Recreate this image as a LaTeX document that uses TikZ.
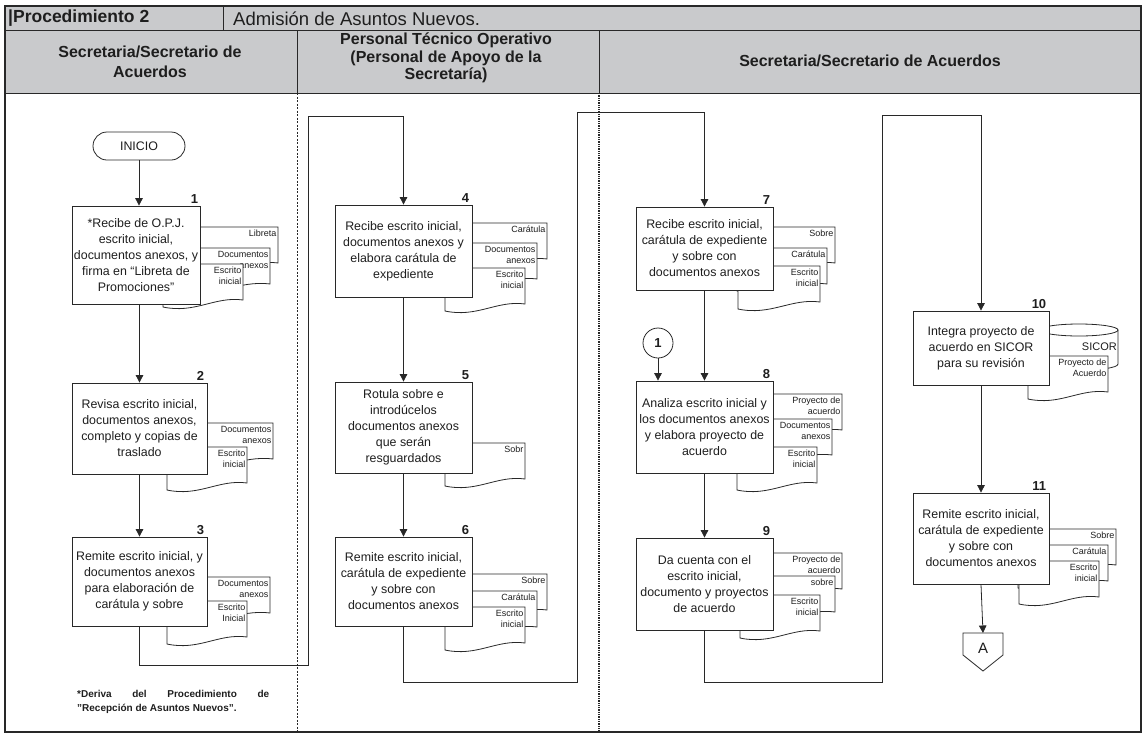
\documentclass[tikz,border=0pt]{standalone}
\usepackage{fontspec}
\setmainfont{Liberation Sans}
\usetikzlibrary{arrows.meta,shapes.geometric}
\definecolor{hdr}{RGB}{201,202,204}
\definecolor{ln}{RGB}{40,40,40}
\definecolor{tx}{RGB}{30,30,30}
\newcommand{\mybody}{\fontsize{12.4}{16}\selectfont}
\newcommand{\mydoc}{\fontsize{9}{11}\selectfont}
\newcommand{\mynum}{\fontsize{13}{15}\selectfont\bfseries}
\newcommand{\myhdr}{\fontsize{16}{17.5}\selectfont\bfseries}
\newcommand{\mytitb}{\fontsize{17.5}{19}\selectfont\bfseries}
\newcommand{\mytit}{\fontsize{18.5}{19}\selectfont}
\newcommand{\myfoot}{\fontsize{10}{14}\selectfont\bfseries}
\tikzset{
  proc/.style={draw=ln, fill=white, line width=0.8pt, align=center, font=\mybody, text=tx, inner sep=0pt},
  docline/.style={draw=ln, fill=white, line width=0.8pt},
  doclbl/.style={font=\mydoc, align=right, inner sep=0pt, text=tx},
  num/.style={font=\mynum, text=tx, inner sep=0pt},
  arr/.style={draw=ln, line width=0.8pt, -{Triangle[length=7.5pt,width=7.5pt]}},
  hdrtxt/.style={font=\myhdr, align=center, text=tx, inner sep=0pt},
}
% #1 right x, #2 top y, #3 width, #4 name, #5 label
\newcommand{\docsh}[5]{%
  \filldraw[docline] (#1-#3,#2) -- (#1,#2) -- (#1,#2+36) .. controls (#1-0.35*#3,#2+32) and (#1-0.6*#3,#2+50) .. (#1-#3,#2+43) -- cycle;
  \node[doclbl, anchor=north east] (#4) at (#1-1.5,#2+3) {#5};
}
\begin{document}
\begin{tikzpicture}[x=1pt,y=-1pt]
\useasboundingbox (0,0) rectangle (1146,737);
% header
\fill[hdr] (5,6) rectangle (1141,93);
\draw[ln, line width=1pt] (5,30) -- (1141,30);
\draw[ln, line width=1pt] (5,93) -- (1141,93);
\draw[ln, line width=0.8pt] (223,6) -- (223,30);
\draw[ln, line width=0.8pt] (297,30) -- (297,93);
\draw[ln, line width=0.8pt] (599,30) -- (599,93);
% lane dividers
\draw[ln, line width=0.7pt, dash pattern=on 2pt off 1.5pt] (297,93) -- (297,732);
\draw[ln, line width=1.8pt, dash pattern=on 1.3pt off 1pt] (599,93) -- (599,732);
% frame
\draw[ln, line width=1.2pt] (5,6) rectangle (1141,732);
% titles
\node[anchor=west, font=\mytitb, text=tx, inner sep=0pt] (t1) at (8,18.5) {|Procedimiento 2};
\node[anchor=west, font=\mytit, text=tx, inner sep=0pt] (t2) at (233,18.5) {Admisión de Asuntos Nuevos.};
\node[hdrtxt, font=\fontsize{16}{20}\selectfont\bfseries] (h1) at (150,62) {Secretaria/Secretario de\\Acuerdos};
\node[hdrtxt] (h2) at (446,58) {Personal Técnico Operativo\\(Personal de Apoyo de la\\Secretaría)};
\node[hdrtxt] (h3) at (870,61) {Secretaria/Secretario de Acuerdos};

% start
\node[draw=ln, fill=white, line width=0.8pt, rounded corners=14pt, minimum width=92pt, minimum height=28pt, font=\mybody, text=tx, inner sep=0pt] (ini) at (139,146) {INICIO};

% ---- box 1
\docsh{278}{227}{90}{d1a}{Libreta}
\docsh{270}{248}{90}{d1b}{Documentos\\anexos}
\docsh{243}{264}{80}{d1c}{Escrito\\inicial}
\node[proc, minimum width=128pt, minimum height=98pt] (b1) at (136,255) {*Recibe de O.P.J.\\escrito inicial,\\documentos anexos, y\\firma en “Libreta de\\Promociones”};
\node[num, anchor=south east] (n1) at ([xshift=-2pt,yshift=2pt]b1.north east) {1};
% ---- box 2
\docsh{273}{423}{90}{d2a}{Documentos\\anexos}
\docsh{247}{447}{80}{d2b}{Escrito\\inicial}
\node[proc, minimum width=135pt, minimum height=91pt] (b2) at (139.5,428.5) {Revisa escrito inicial,\\documentos anexos,\\completo y copias de\\traslado};
\node[num, anchor=south east] (n2) at ([xshift=-3pt,yshift=2pt]b2.north east) {2};
% ---- box 3
\docsh{270}{577}{90}{d3a}{Documentos\\anexos}
\docsh{247}{601}{80}{d3b}{Escrito\\Inicial}
\node[proc, minimum width=135pt, minimum height=89pt] (b3) at (139.5,581.5) {Remite escrito inicial, y\\documentos anexos\\para elaboración de\\carátula y sobre};
\node[num, anchor=south east] (n3) at ([xshift=-3pt,yshift=2pt]b3.north east) {3};

% ---- box 4
\docsh{547}{223}{90}{d4a}{Carátula}
\docsh{537}{243}{90}{d4b}{Documentos\\anexos}
\docsh{525}{268}{80}{d4c}{Escrito\\inicial}
\node[proc, minimum width=137pt, minimum height=92pt] (b4) at (403.5,251) {Recibe escrito inicial,\\documentos anexos y\\elabora carátula de\\expediente};
\node[num, anchor=south east] (n4) at ([xshift=-3pt,yshift=2pt]b4.north east) {4};
% ---- box 5
\docsh{525}{443}{80}{d5a}{Sobr}
\node[proc, minimum width=137pt, minimum height=91pt] (b5) at (403.5,427.5) {Rotula sobre e\\introdúcelos\\documentos anexos\\que serán\\resguardados};
\node[num, anchor=south east] (n5) at ([xshift=-3pt,yshift=2pt]b5.north east) {5};
% ---- box 6
\docsh{547}{574}{90}{d6a}{Sobre}
\docsh{537}{591}{90}{d6b}{Carátula}
\docsh{525}{607}{80}{d6c}{Escrito\\inicial}
\node[proc, minimum width=137pt, minimum height=89pt] (b6) at (403.5,581.5) {Remite escrito inicial,\\carátula de expediente\\y sobre con\\documentos anexos};
\node[num, anchor=south east] (n6) at ([xshift=-3pt,yshift=2pt]b6.north east) {6};

% ---- box 7
\docsh{835}{227}{90}{d7a}{Sobre}
\docsh{827}{248}{90}{d7b}{Carátula}
\docsh{820}{266}{82}{d7c}{Escrito\\inicial}
\node[proc, minimum width=137pt, minimum height=83pt] (b7) at (704.5,248.5) {Recibe escrito inicial,\\carátula de expediente\\y sobre con\\documentos anexos};
\node[num, anchor=south east] (n7) at ([xshift=-3pt,yshift=2pt]b7.north east) {7};
% ---- circle 1
\node[draw=ln, fill=white, circle, minimum size=30pt, inner sep=0pt, font=\mynum, text=tx, line width=0.8pt] (c1) at (658,343) {1};
% ---- box 8
\docsh{842}{394}{90}{d8a}{Proyecto de\\acuerdo}
\docsh{832}{419}{90}{d8b}{Documentos\\anexos}
\docsh{817}{447}{80}{d8c}{Escrito\\inicial}
\node[proc, minimum width=137pt, minimum height=92pt] (b8) at (704.5,427) {Analiza escrito inicial y\\los documentos anexos\\y elabora proyecto de\\acuerdo};
\node[num, anchor=south east] (n8) at ([xshift=-3pt,yshift=2pt]b8.north east) {8};
% ---- box 9
\docsh{842}{553}{90}{d9a}{Proyecto de\\acuerdo}
\docsh{835}{576}{90}{d9b}{sobre}
\docsh{820}{595}{80}{d9c}{Escrito\\inicial}
\node[proc, minimum width=137pt, minimum height=92pt] (b9) at (704.5,584) {Da cuenta con el\\escrito inicial,\\documento y proyectos\\de acuerdo};
\node[num, anchor=south east] (n9) at ([xshift=-3pt,yshift=2pt]b9.north east) {9};

% ---- box 10 with SICOR cylinder
\filldraw[docline] (1040,330) -- (1040,364) .. controls (1040,372) and (1118,372) .. (1118,364) -- (1118,330) -- cycle;
\filldraw[docline] (1079,330) ellipse [x radius=39, y radius=6];
\node[anchor=east, font=\fontsize{11}{13}\selectfont, text=tx, inner sep=0pt] (sic) at (1117,347) {SICOR};
\docsh{1108}{356}{80}{d10a}{Proyecto de\\Acuerdo}
\node[proc, minimum width=136pt, minimum height=74pt] (b10) at (981,348) {Integra proyecto de\\acuerdo en SICOR\\para su revisión};
\node[num, anchor=south east] (n10) at ([xshift=-3pt,yshift=2pt]b10.north east) {10};
% ---- box 11
\docsh{1116}{529}{90}{d11a}{Sobre}
\docsh{1108}{545}{90}{d11b}{Carátula}
\docsh{1099}{561}{80}{d11c}{Escrito\\inicial}
\node[proc, minimum width=136pt, minimum height=91pt] (b11) at (981,538.5) {Remite escrito inicial,\\carátula de expediente\\y sobre con\\documentos anexos};
\node[num, anchor=south east] (n11) at ([xshift=-3pt,yshift=2pt]b11.north east) {11};
% ---- off-page A
\filldraw[docline] (963,633) -- (1003,633) -- (1003,655) -- (983,671) -- (963,655) -- cycle;
\node[font=\fontsize{15}{18}\selectfont, text=tx, inner sep=0pt] (alab) at (983,648) {A};
\coordinate (Atop) at (983,633);

% footnote
\node[anchor=north west, font=\myfoot, text=tx, inner sep=0pt, align=left] (fn) at (77,690) {\makebox[192pt][s]{*Deriva del Procedimiento de}\\"Recepción de Asuntos Nuevos".};

% connector junctions
\coordinate (j1) at (308,665);
\coordinate (j2) at (308,116);
\coordinate (j3) at (577,682);
\coordinate (j4) at (577,112);
\coordinate (j5) at (882,682);
\coordinate (j6) at (882,115);

% connectors
\draw[arr] (ini.south) -- (ini.south |- b1.north);
\draw[arr] (b1.south -| b2.north) -- (b2.north);
\draw[arr] (b2.south) -- (b3.north);
\draw[arr] (b3.south) |- (j1) -- (j2) -| (b4.north);
\draw[arr] (b4.south) -- (b5.north);
\draw[arr] (b5.south) -- (b6.north);
\draw[arr] (b6.south) |- (j3) -- (j4) -| (b7.north);
\draw[arr] (b7.south) -- (b8.north);
\draw[arr] (c1.south) -- (c1.south |- b8.north);
\draw[arr] (b8.south) -- (b9.north);
\draw[arr] (b9.south) |- (j5) -- (j6) -| (b10.north);
\draw[arr] (b10.south) -- (b11.north);
\draw[arr] (b11.south) -- (Atop);
\end{tikzpicture}
\end{document}
